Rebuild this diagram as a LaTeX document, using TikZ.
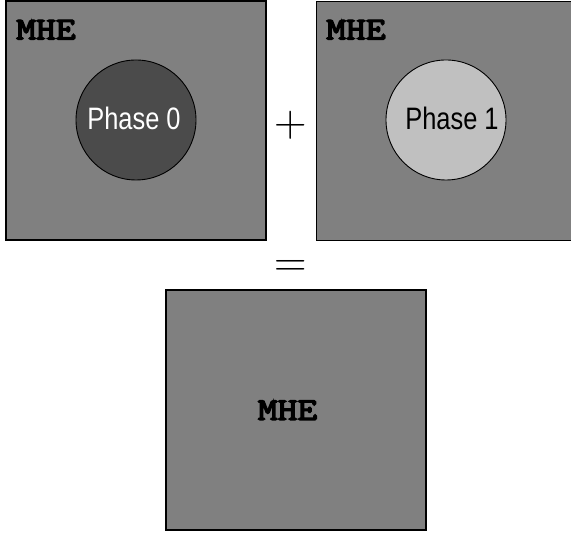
\documentclass[tikz,border=0pt]{standalone}
\usepackage{fontspec}
\newfontfamily\phasefont{Liberation Sans}
\newfontfamily\mhefont[FakeBold=4]{Latin Modern Mono}
\begin{document}
\begin{tikzpicture}[x=1pt,y=1pt,
  panel/.style={draw=black,line width=1.2pt,fill=gray50},
  phasecirc/.style={circle,draw=black,line width=0.9pt,minimum size=120pt,inner sep=0pt},
  mhe/.style={font=\fontsize{32}{32}\selectfont\mhefont,inner sep=0pt,xscale=1.2},
  phasetext/.style={font=\fontsize{31}{31}\selectfont\phasefont,inner sep=0pt,xscale=0.82},
  optext/.style={font=\fontsize{45}{45}\selectfont,inner sep=0pt,anchor=base}]
\definecolor{gray50}{HTML}{808080}
\definecolor{darkphase}{HTML}{4B4B4B}
\definecolor{lightphase}{HTML}{C0C0C0}
\useasboundingbox (0,0) rectangle (571,535);
% panels
\node[panel,minimum width=260pt,minimum height=239pt,inner sep=0pt] (left) at (136,414.5) {};
\node[panel,minimum width=264pt,minimum height=239pt,inner sep=0pt,anchor=north west] (right) at (316,534) {};
\node[panel,minimum width=260pt,minimum height=240pt,inner sep=0pt] (bottom) at (296,125) {};
% circles
\node[phasecirc,fill=darkphase] (c0) at (136,415) {};
\node[phasecirc,fill=lightphase] (c1) at (446,415) {};
% texts
\node[phasetext,text=white,anchor=base] (t0) at (134,405) {Phase 0};
\node[phasetext,text=black,anchor=base] (t1) at (452,405) {Phase 1};
\node[mhe,anchor=base west] (m0) at (16,495.5) {MHE};
\node[mhe,anchor=base west] (m1) at (326,495.5) {MHE};
\node[mhe,anchor=base] (m2) at (287.5,115) {MHE};
% operators
\node[optext] (plus) at (291,398.75) {+};
\node[optext] (eq) at (291,258.75) {=};
\end{tikzpicture}
\end{document}
